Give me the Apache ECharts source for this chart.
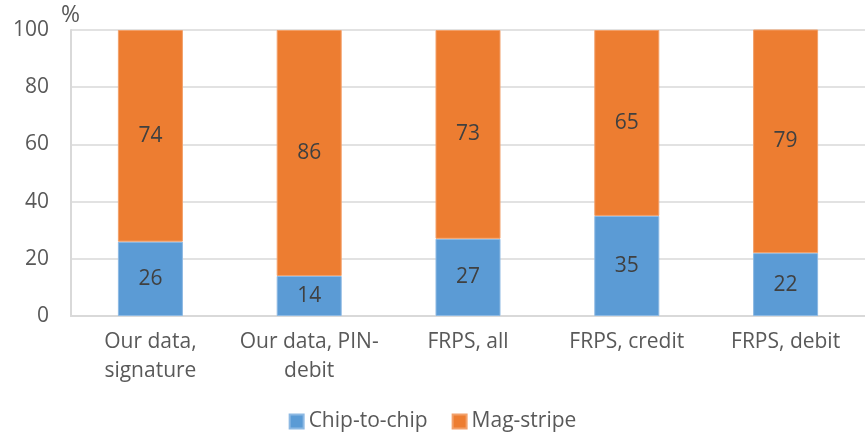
<!DOCTYPE html>
<html>
<head>
<meta charset="utf-8">
<script src="https://cdn.jsdelivr.net/npm/echarts@6/dist/echarts.min.js"></script>
<style>
  html, body { margin: 0; padding: 0; background: #fff; }
  #chart { width: 865px; height: 435px; }
</style>
</head>
<body>
<div id="chart"></div>
<script>
// Card-present transaction shares by authentication method (%)
const categories = ['Our data,\nsignature', 'Our data, PIN-\ndebit', 'FRPS, all', 'FRPS, credit', 'FRPS, debit'];
const chipToChip = [26, 14, 27, 35, 22];
const magStripe = [74, 86, 73, 65, 79];
const yTicks = { min: 0, max: 100, interval: 20 };

const FONT = '"Open Sans", "Noto Sans", sans-serif';
const chart = echarts.init(document.getElementById('chart'));

const labelStyle = {
  show: true,
  position: 'inside',
  color: '#404040',
  fontSize: 21,
  fontFamily: FONT
};

chart.setOption({
  animation: false,
  grid: { left: 71, top: 30, width: 803, bottom: 119 },
  legend: {
    bottom: -2,
    left: 'center',
    itemWidth: 14,
    itemHeight: 14,
    itemGap: 24,
    icon: 'rect',
    textStyle: { color: '#595959', fontSize: 21, fontFamily: FONT },
    data: ['Chip-to-chip', 'Mag-stripe']
  },
  xAxis: {
    type: 'category',
    data: categories,
    axisLine: { lineStyle: { color: '#D9D9D9', width: 2 } },
    axisTick: { show: false },
    axisLabel: {
      color: '#595959',
      fontSize: 21,
      fontFamily: FONT,
      lineHeight: 29,
      margin: 12,
      interval: 0
    }
  },
  yAxis: {
    type: 'value',
    min: yTicks.min,
    max: yTicks.max,
    interval: yTicks.interval,
    name: '%',
    nameLocation: 'end',
    nameGap: 3,
    nameTextStyle: { color: '#595959', fontSize: 23, fontFamily: FONT, align: 'left', padding: [0, 0, 0, -10] },
    axisLine: { show: true, lineStyle: { color: '#D9D9D9', width: 2 } },
    axisTick: { show: false },
    splitLine: { lineStyle: { color: '#D9D9D9', width: 1.5 } },
    axisLabel: { color: '#595959', fontSize: 21, fontFamily: FONT, margin: 22 }
  },
  series: [
    {
      name: 'Chip-to-chip',
      type: 'bar',
      stack: 'total',
      barWidth: 65,
      data: chipToChip,
      itemStyle: { color: '#5B9BD5', borderColor: '#8DB9E3', borderWidth: 1 },
      label: labelStyle
    },
    {
      name: 'Mag-stripe',
      type: 'bar',
      stack: 'total',
      barWidth: 65,
      data: magStripe,
      itemStyle: { color: '#ED7D31', borderColor: '#F2A06A', borderWidth: 1 },
      label: labelStyle
    }
  ]
});
</script>
</body>
</html>
